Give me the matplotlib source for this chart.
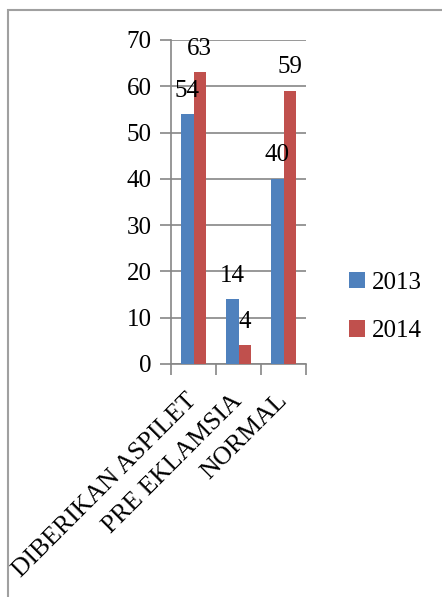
import matplotlib
matplotlib.use('Agg')
import matplotlib.pyplot as plt
import matplotlib.patches as mpatches
import numpy as np

# data
categories = ['DIBERIKAN ASPILET', 'PRE EKLAMSIA', 'NORMAL']
series_2013 = [54, 14, 40]
series_2014 = [63, 4, 59]
years = ['2013', '2014']
yticks = [0, 10, 20, 30, 40, 50, 60, 70]

plt.rcParams['font.family'] = ['Liberation Serif', 'DejaVu Serif']
grey = '#868686'
colors = ['#4F81BD', '#C0504D']

fig = plt.figure(figsize=(4.42, 5.97), dpi=100)

# outer frame (runs off the right and bottom edges)
frame = mpatches.Rectangle((8/442, -0.1), 1.2, 1 - 10/597 + 0.1,
                           transform=fig.transFigure, fill=False,
                           edgecolor='#a0a0a0', linewidth=1.5)
fig.patches.append(frame)

ax = fig.add_axes([171/442, 1 - 364/597, 135/442, 324/597])

x = np.arange(len(categories))
w = 0.28
b1 = ax.bar(x - w/2, series_2013, w, color=colors[0], label=years[0], zorder=3)
b2 = ax.bar(x + w/2, series_2014, w, color=colors[1], label=years[1], zorder=3)

for bars in (b1, b2):
    for r in bars:
        ax.annotate(str(int(r.get_height())),
                    (r.get_x() + r.get_width()/2, r.get_height()),
                    xytext=(0, 9), textcoords='offset points',
                    ha='center', va='bottom', fontsize=18, zorder=4)

ax.set_xlim(-0.5, len(categories) - 0.5)
ax.set_ylim(0, 70)
ax.set_yticks(yticks)
ax.yaxis.grid(True, color=grey, linewidth=1.2, zorder=0)
ax.set_axisbelow(True)

ax.set_xticks(np.arange(len(categories) + 1) - 0.5)
ax.set_xticklabels([])
ax.set_xticks(x, minor=True)
ax.set_xticklabels(categories, minor=True, rotation=45, ha='right',
                   va='center', rotation_mode='anchor', fontsize=18.5)
ax.tick_params(axis='x', which='minor', length=0, pad=24)
ax.tick_params(axis='x', which='major', length=8, width=1.2, color=grey)
ax.tick_params(axis='y', length=8, width=1.2, color=grey, labelsize=18, pad=6)

for s in ['top', 'right']:
    ax.spines[s].set_visible(False)
for s in ['left', 'bottom']:
    ax.spines[s].set_color(grey)
    ax.spines[s].set_linewidth(1.2)

leg = fig.legend(handles=[b1, b2], labels=years, loc='center left',
                 bbox_to_anchor=(326/442, 1 - 307/597), frameon=False,
                 fontsize=18, handlelength=0.65, handleheight=0.65,
                 handletextpad=0.3, labelspacing=1.05)

fig.savefig('out.png', dpi=100)
